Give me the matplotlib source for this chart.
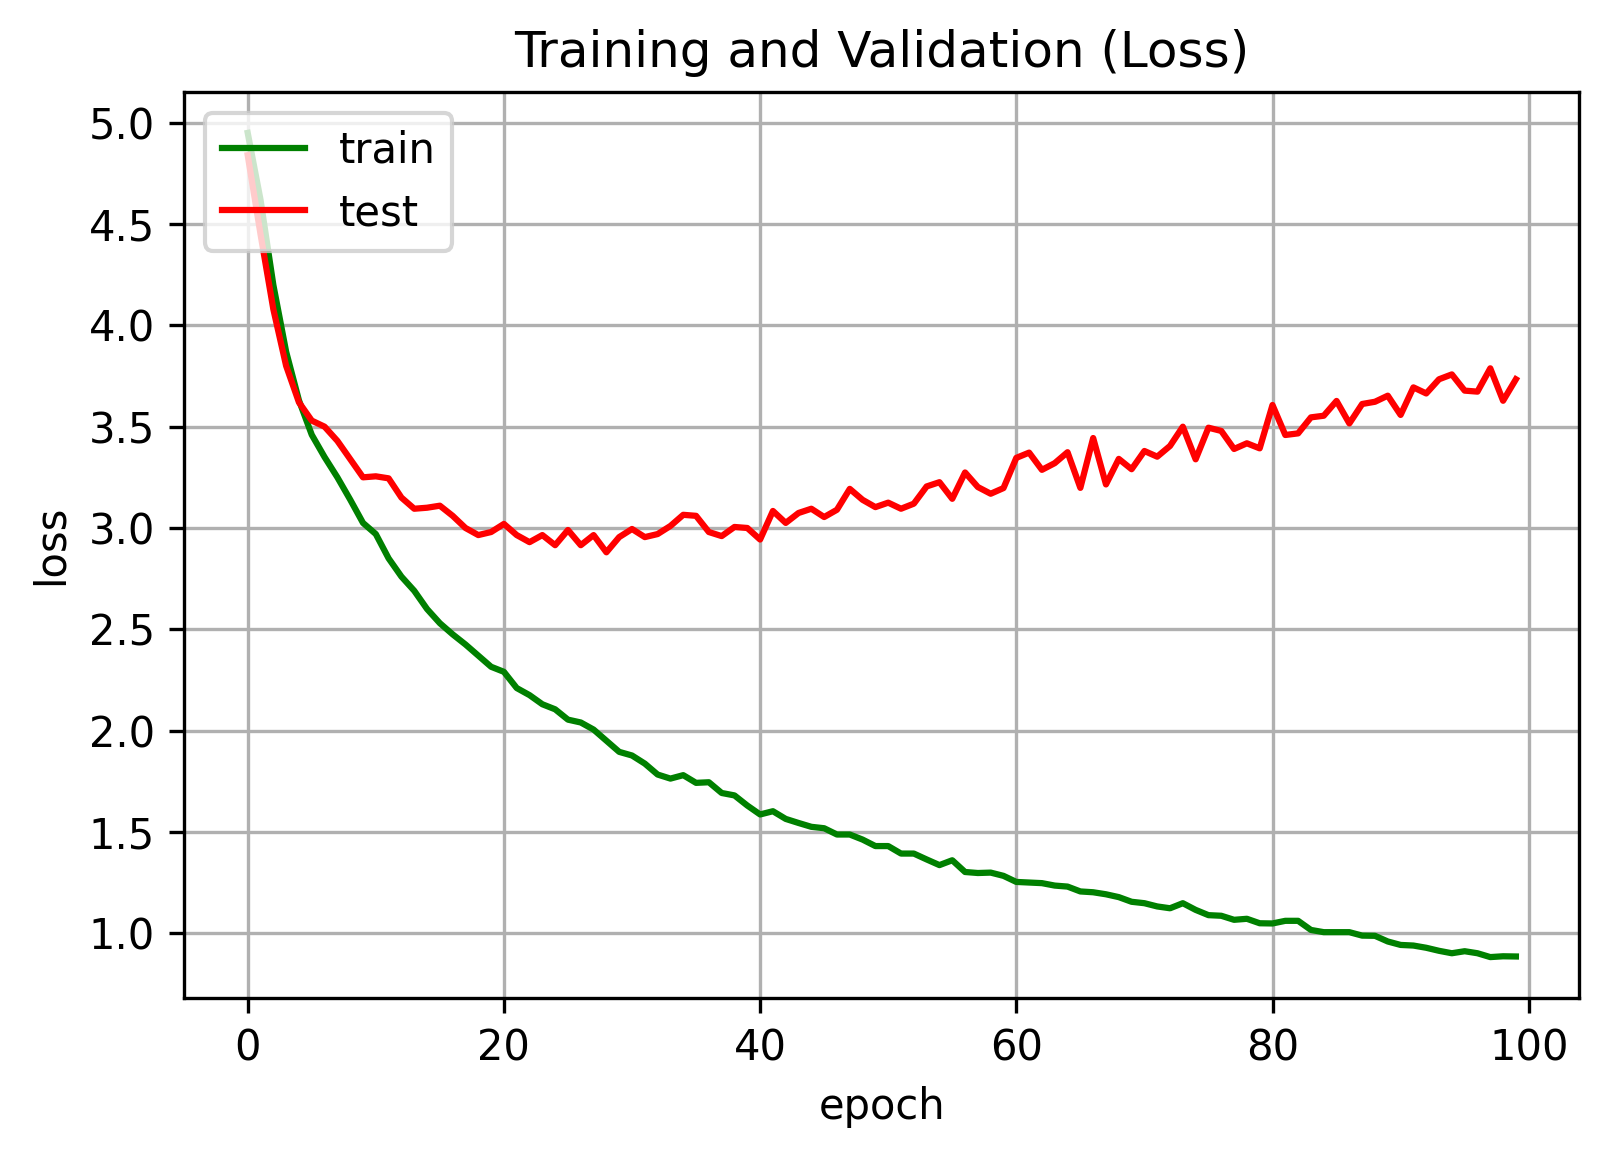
import matplotlib
matplotlib.use("Agg")
import matplotlib.pyplot as plt
import numpy as np

epochs = list(range(100))

train_loss = [4.95, 4.62, 4.20, 3.87, 3.63, 3.46, 3.35, 3.25, 3.14, 3.025,
              2.97, 2.85, 2.76, 2.69, 2.60, 2.53, 2.475, 2.425, 2.37, 2.315,
              2.29, 2.21, 2.175, 2.13, 2.105, 2.054, 2.04, 2.005, 1.95, 1.895,
              1.877, 1.837, 1.783, 1.763, 1.78, 1.742, 1.745, 1.692, 1.68, 1.63,
              1.586, 1.602, 1.564, 1.544, 1.525, 1.518, 1.487, 1.487, 1.462, 1.43,
              1.43, 1.393, 1.393, 1.364, 1.336, 1.36, 1.302, 1.297, 1.299, 1.283,
              1.253, 1.25, 1.247, 1.235, 1.23, 1.206, 1.202, 1.192, 1.178, 1.155,
              1.148, 1.132, 1.123, 1.148, 1.115, 1.089, 1.086, 1.066, 1.071, 1.049,
              1.048, 1.061, 1.061, 1.016, 1.005, 1.005, 1.005, 0.988, 0.987, 0.959,
              0.942, 0.939, 0.928, 0.913, 0.901, 0.911, 0.901, 0.882, 0.886, 0.885]

test_loss = [4.84, 4.45, 4.08, 3.80, 3.62, 3.53, 3.50, 3.43, 3.34, 3.25,
             3.255, 3.245, 3.15, 3.095, 3.10, 3.11, 3.06, 3.0, 2.965, 2.98,
             3.02, 2.965, 2.93, 2.965, 2.915, 2.99, 2.915, 2.965, 2.88, 2.955,
             2.995, 2.955, 2.97, 3.01, 3.065, 3.06, 2.98, 2.96, 3.005, 3.0,
             2.943, 3.084, 3.025, 3.074, 3.095, 3.054, 3.09, 3.193, 3.139, 3.103,
             3.125, 3.095, 3.12, 3.205, 3.226, 3.144, 3.274, 3.202, 3.169, 3.197,
             3.346, 3.372, 3.287, 3.32, 3.374, 3.198, 3.444, 3.215, 3.341, 3.29,
             3.38, 3.352, 3.405, 3.5, 3.339, 3.495, 3.479, 3.39, 3.418, 3.393,
             3.607, 3.459, 3.467, 3.546, 3.554, 3.627, 3.516, 3.612, 3.623, 3.653,
             3.558, 3.694, 3.664, 3.734, 3.758, 3.678, 3.673, 3.788, 3.628, 3.734]

W, H, DPI = 1609, 1158, 300
fig = plt.figure(figsize=(W / DPI, H / DPI), dpi=DPI)
left, right, top, bottom = 184.3, 1579.3, 91.7, 998.3
ax = fig.add_axes([left / W, 1 - bottom / H, (right - left) / W, (bottom - top) / H])

ax.plot(epochs, train_loss, color="green", label="train")
ax.plot(epochs, test_loss, color="red", label="test")
ax.set_title("Training and Validation (Loss)")
ax.set_xlabel("epoch")
ax.set_ylabel("loss")
ax.grid(True)
ax.legend(loc="upper left")

fig.savefig("out.png", dpi=DPI)
